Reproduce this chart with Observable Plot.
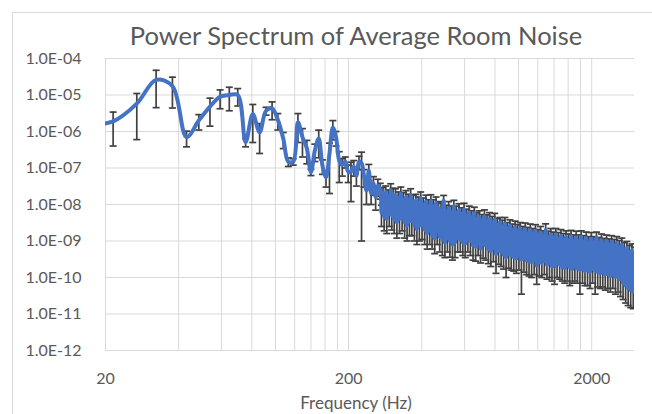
<!DOCTYPE html>
<html>
<head>
<meta charset="utf-8">
<script src="https://cdn.jsdelivr.net/npm/d3@7"></script>
<script src="https://cdn.jsdelivr.net/npm/@observablehq/plot@0.6"></script>
<style>
  html, body { margin: 0; padding: 0; background: #fff; }
  #wrap { position: relative; width: 652px; height: 414px; overflow: hidden; background: #fff; font-family: Lato, "Open Sans", sans-serif; }
  #border { position: absolute; left: 12px; top: 12px; width: 800px; height: 600px; border: 1px solid #d9d9d9; box-sizing: border-box; }
  #title { position: absolute; left: 56px; width: 600px; top: 23px; text-align: center; font-size: 25.5px; color: #595959; line-height: 1; }
  #xlabel { position: absolute; left: 56px; width: 600px; top: 394px; text-align: center; font-size: 17px; color: #595959; line-height: 1; }
  #chart { position: absolute; left: 0; top: 0; }
</style>
</head>
<body>
<div id="wrap">
  <div id="border"></div>
  <div id="chart"></div>
  <div id="title">Power Spectrum of Average Room Noise</div>
  <div id="xlabel">Frequency (Hz)</div>
</div>
<script>
// Frequencies (Hz)
const freq = [
  16.1, 21.5, 26.9, 32.3, 37.7, 43.1, 48.4, 53.8, 59.2, 64.6, 70.0, 75.4, 80.7, 86.1, 91.5, 96.9,
  102.3, 107.7, 113.0, 118.4, 123.8, 129.2, 134.6, 140.0, 145.3, 150.7, 156.1, 161.5, 166.9, 172.3,
  177.6, 183.0, 188.4, 193.8, 199.2, 204.6, 209.9, 215.3, 220.7, 226.1, 231.5, 236.8, 242.2, 247.6,
  253.0, 258.4, 263.8,
  270, 273, 277, 280, 284, 287, 291, 294, 298, 301, 305, 308, 312, 316, 320, 324, 328, 332, 336, 340,
  344, 348, 352, 356, 360, 364, 369, 373, 378, 382, 387, 391, 396, 401, 406, 411, 416, 421, 426, 431,
  436, 441, 447, 452, 458, 463, 469, 474, 480, 486, 492, 498, 504, 510, 516, 522, 529, 535, 542, 548,
  555, 562, 569, 576, 583, 590, 597, 604, 612, 619, 627, 634, 642, 650, 658, 666, 674, 682, 690, 698,
  707, 715, 724, 733, 742, 751, 760, 769, 779, 788, 798, 808, 818, 828, 838, 848, 858, 868, 879, 889,
  900, 911, 922, 933, 945, 956, 968, 980, 992, 1004, 1016, 1028, 1041, 1053, 1066, 1079, 1092, 1105,
  1119, 1132, 1146, 1160, 1174, 1188, 1203, 1217, 1232, 1247, 1262, 1277, 1293, 1309, 1325, 1341,
  1357, 1373, 1390, 1407, 1424, 1441, 1459, 1477, 1495, 1513, 1531, 1549, 1568, 1587, 1606, 1625,
  1645, 1665, 1685, 1705, 1726, 1747, 1768, 1789, 1811, 1833, 1855, 1877, 1900, 1923, 1946, 1969,
  1993, 2017, 2042, 2067, 2092, 2117, 2143, 2169, 2195, 2221, 2248, 2275, 2303, 2331, 2359, 2387,
  2416, 2445, 2475, 2505, 2535, 2566, 2597, 2628, 2660, 2692, 2725, 2758, 2791, 2825, 2859, 2894,
  2929, 2964, 3000
];
// Average power
const power = [
  1.5e-6, 1.9e-6, 5.8e-6, 2.6e-5, 1.76e-5, 7.0e-7, 2.0e-6, 4.8e-6, 9.0e-6, 1.0e-5, 1.0e-5, 5.1e-7,
  3.0e-6, 9.5e-7, 3.7e-6, 4.3e-6, 2.1e-6, 6.4e-7, 1.5e-7, 1.5e-7, 1.8e-6, 7.0e-7, 3.5e-7, 7.7e-8,
  3.0e-7, 6.4e-7, 1.17e-7, 5.6e-8, 2.5e-7, 1.29e-6, 7.0e-7, 1.6e-7, 1.2e-7, 1.5e-7, 8.0e-8, 7.8e-8,
  1.1e-7, 6.2e-8, 1.5e-7, 1.36e-7, 6.0e-8, 2.4e-8, 8.5e-8, 2.0e-8, 3.8e-8, 1.6e-8, 3.3e-8,
  2.6e-8, 6e-9, 2.0e-8, 4.5e-9, 2.2e-8, 4e-9, 1.7e-8, 5.5e-9, 2.5e-8, 5e-9, 1.9e-8, 3.8e-9,
  1.8e-8, 3.2e-9, 1.5e-8, 4e-9, 2.0e-8, 4.5e-9, 1.4e-8, 3.2e-9, 1.6e-8, 2.6e-9, 1.3e-8, 3.4e-9,
  1.8e-8, 3.5e-9, 1.2e-8, 2.6e-9, 1.3e-8, 2.1e-9, 1.1e-8, 2.6e-9, 1.5e-8, 2.8e-9, 1.0e-8, 2.0e-9,
  1.2e-8, 1.6e-9, 9e-9, 2.0e-9, 1.25e-8, 1.4e-9, 9e-9, 1.2e-9, 1.1e-8, 1.9e-9, 8e-9, 1.3e-9,
  7.5e-9, 1.1e-9, 1.29e-8, 9e-10, 6.5e-9, 1.2e-9, 8e-9, 1.0e-9, 6e-9, 8e-10, 9e-9, 9e-10,
  6e-9, 1.2e-9, 7e-9, 1.1e-9, 5.5e-9, 9e-10, 7.3e-9, 8.5e-10, 5e-9, 1.1e-9, 6e-9, 1.0e-9,
  4.5e-9, 7.5e-10, 5.8e-9, 7e-10, 4e-9, 9e-10, 4.5e-9, 6.2e-10, 3.6e-9, 8e-10, 4.8e-9, 7.5e-10,
  3.5e-9, 6e-10, 4e-9, 5.2e-10, 3.2e-9, 6.5e-10, 3.8e-9, 4.3e-10, 2.8e-9, 5.5e-10, 3.2e-9, 5e-10,
  2.5e-9, 4.2e-10, 3.0e-9, 3.5e-10, 2.2e-9, 4.5e-10, 2.6e-9, 4e-10, 2.0e-9, 3.6e-10, 2.4e-9, 3.3e-10,
  1.9e-9, 4e-10, 2.2e-9, 3.1e-10, 1.7e-9, 3.4e-10, 2.1e-9, 3e-10, 1.6e-9, 2.7e-10, 2.0e-9, 2.6e-10,
  1.5e-9, 3e-10, 1.9e-9, 2.1e-10, 1.4e-9, 2.6e-10, 1.7e-9, 2.5e-10, 1.3e-9, 2.8e-10, 2.0e-9, 2.2e-10,
  1.25e-9, 2.5e-10, 1.5e-9, 2.0e-10, 1.2e-9, 2.0e-10, 1.5e-9, 2.4e-10, 1.15e-9, 2.2e-10, 1.4e-9, 1.9e-10,
  1.1e-9, 1.8e-10, 1.3e-9, 2.1e-10, 1.05e-9, 1.9e-10, 1.35e-9, 1.7e-10, 1.0e-9, 2.0e-10, 1.25e-9, 1.8e-10,
  1.0e-9, 1.6e-10, 1.3e-9, 1.7e-10, 9.5e-10, 1.5e-10, 1.2e-9, 1.6e-10, 9e-10, 1.4e-10, 1.15e-9, 1.7e-10,
  9e-10, 1.5e-10, 1.25e-9, 1.4e-10, 8.5e-10, 1.3e-10, 1.05e-9, 1.4e-10, 8e-10, 1.2e-10, 1.0e-9, 1.25e-10,
  7.8e-10, 1.1e-10, 9.5e-10, 1.2e-10, 7.5e-10, 1.05e-10, 9e-10, 1.0e-10, 7e-10, 9e-11, 8e-10, 7e-11,
  6e-10, 6e-11, 6.5e-10, 5e-11, 5e-10, 4.5e-11, 5.5e-10, 4e-11, 4.5e-10
];
// Standard error (error bar half-length)
const err = [
  1.2e-6, 1.5e-6, 5.2e-6, 2.15e-5, 1.32e-5, 3.2e-7, 9e-7, 3.4e-6, 4.8e-6, 6.3e-6, 5e-6, 1.3e-7,
  2.5e-6, 7e-7, 9e-7, 2.2e-6, 1.0e-6, 3e-7, 4e-8, 3e-8, 1.3e-6, 5e-7, 2.2e-7, 1.5e-8, 1.5e-7,
  4.5e-7, 5e-8, 2.6e-8, 2.3e-7, 7e-7, 3e-7, 1.2e-7, 6e-8, 5e-8, 4e-8, 6.6e-8, 5e-8, 3e-8, 6e-8,
  1.35e-7, 3e-8, 1.4e-8, 4e-8, 1.0e-8, 2.0e-8, 9e-9, 1.6e-8,
  1.2e-8, 3.5e-9, 9e-9, 2.6e-9, 1e-8, 2.4e-9, 8e-9, 3e-9, 1.2e-8, 3e-9, 9e-9, 2.2e-9,
  9e-9, 2e-9, 7e-9, 2.4e-9, 1e-8, 2.6e-9, 7e-9, 2e-9, 8e-9, 1.6e-9, 6e-9, 2e-9,
  9e-9, 2.1e-9, 6e-9, 1.6e-9, 6e-9, 1.3e-9, 5e-9, 1.6e-9, 7e-9, 1.7e-9, 5e-9, 1.2e-9,
  6e-9, 1.0e-9, 4.5e-9, 1.2e-9, 6e-9, 8e-10, 4.5e-9, 7.5e-10, 5e-9, 1.1e-9, 4e-9, 8e-10,
  3.5e-9, 7e-10, 4.8e-9, 5.5e-10, 3e-9, 7e-10, 4e-9, 6.4e-10, 3e-9, 5e-10, 4e-9, 5.5e-10,
  3e-9, 7e-10, 3.5e-9, 6e-10, 2.6e-9, 5e-10, 3.5e-9, 5e-10, 2.4e-9, 6e-10, 3e-9, 6e-10,
  2.2e-9, 4.5e-10, 2.6e-9, 4.2e-10, 2e-9, 5e-10, 2.2e-9, 3.7e-10, 1.7e-9, 4.6e-10, 2.3e-9, 4.5e-10,
  1.7e-9, 3.6e-10, 2e-9, 3.2e-10, 1.5e-9, 3.8e-10, 1.9e-9, 3.0e-10, 1.3e-9, 3.2e-10, 1.2e-9, 3e-10,
  1.2e-9, 2.5e-10, 1.4e-9, 2.5e-10, 1e-9, 2.7e-10, 1.2e-9, 2.4e-10, 9e-10, 2.1e-10, 1.1e-9, 2e-10,
  9e-10, 2.4e-10, 1e-9, 2.75e-10, 8e-10, 2e-10, 1e-9, 1.8e-10, 7.5e-10, 1.6e-10, 9e-10, 1.6e-10,
  7e-10, 1.8e-10, 9e-10, 1.45e-10, 6.5e-10, 1.5e-10, 8e-10, 1.5e-10, 6e-10, 1.6e-10, 9.5e-10, 1.3e-10,
  6e-10, 1.5e-10, 7e-10, 1.2e-10, 5.5e-10, 1.35e-10, 7e-10, 1.4e-10, 5.5e-10, 1.3e-10, 6.5e-10, 1.1e-10,
  5e-10, 1.1e-10, 6e-10, 1.3e-10, 5e-10, 1.3e-10, 6e-10, 1.0e-10, 4.6e-10, 1.2e-10, 6e-10, 1.1e-10,
  4.6e-10, 1.25e-10, 6e-10, 1.0e-10, 4.5e-10, 9e-11, 5.5e-10, 1e-10, 4.2e-10, 9e-11, 5.5e-10, 1e-10,
  4.2e-10, 1.15e-10, 5e-10, 8.5e-11, 4e-10, 8e-11, 5e-10, 8.5e-11, 3.8e-10, 7.5e-11, 4.5e-10, 7.5e-11,
  3.6e-10, 7e-11, 4.5e-10, 7e-11, 3.5e-10, 7e-11, 4.2e-10, 6e-11, 3.3e-10, 6e-11, 4e-10, 4.5e-11,
  3e-10, 4e-11, 3.2e-10, 3.3e-11, 2.5e-10, 3e-11, 2.8e-10, 2.6e-11, 2.2e-10
];
// Axis ticks
const xTicks = [20, 200, 2000];
const xGrid = [20, 40, 60, 80, 100, 120, 140, 160, 180, 200, 400, 600, 800, 1000, 1200, 1400, 1600, 1800, 2000];
const yTicks = [1e-4, 1e-5, 1e-6, 1e-7, 1e-8, 1e-9, 1e-10, 1e-11, 1e-12];

const data = freq.map((f, i) => ({
  f,
  v: power[i],
  hi: power[i] + err[i],
  lo: Math.max(power[i] - err[i], 1e-14)
}));

const cap = {
  draw(context) {
    context.moveTo(-3.5, 0);
    context.lineTo(3.5, 0);
  }
};

const fmtY = d => {
  const e = Math.round(Math.log10(d));
  return "1.0E" + (e < 0 ? "-" : "+") + String(Math.abs(e)).padStart(2, "0");
};

const chart = Plot.plot({
  width: 652,
  height: 414,
  marginLeft: 105,
  marginRight: 18,
  marginTop: 58,
  marginBottom: 64,
  style: { fontFamily: "Lato, 'Open Sans', sans-serif", fontSize: "16px", color: "#595959", background: "transparent", overflow: "visible" },
  x: { type: "log", domain: [20, 3000] },
  y: { type: "log", domain: [1e-12, 1e-4] },
  marks: [
    Plot.ruleX(xGrid, { stroke: "#d9d9d9", strokeWidth: 1, strokeOpacity: 1 }),
    Plot.ruleY(yTicks, { stroke: "#d9d9d9", strokeWidth: 1, strokeOpacity: 1 }),
    Plot.ruleX(data, { x: "f", y1: "lo", y2: "hi", stroke: "#404040", strokeWidth: 1.7, clip: true }),
    Plot.dot(data, { x: "f", y: "hi", symbol: cap, stroke: "#404040", strokeWidth: 1.7, fill: "none", clip: true }),
    Plot.dot(data, { x: "f", y: "lo", symbol: cap, stroke: "#404040", strokeWidth: 1.7, fill: "none", clip: true }),
    Plot.line(data, { x: "f", y: "v", curve: "catmull-rom", stroke: "#4472C4", strokeWidth: 4, clip: true }),
    Plot.axisY(yTicks, { tickSize: 0, tickPadding: 24, tickFormat: fmtY, label: null, fontSize: 16 }),
    Plot.axisX(xTicks, { tickSize: 0, tickPadding: 22, tickFormat: d => String(d), label: null, fontSize: 16 })
  ]
});
document.getElementById("chart").appendChild(chart);
</script>
</body>
</html>
